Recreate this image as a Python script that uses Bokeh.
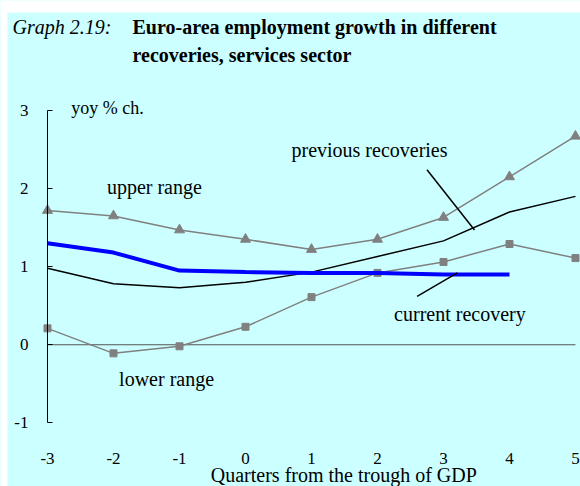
from bokeh.plotting import figure
from bokeh.models import Label, FixedTicker, Range1d, PrintfTickFormatter, BoxAnnotation
from bokeh.embed import file_html
from bokeh.resources import INLINE

quarters = [-3, -2, -1, 0, 1, 2, 3, 4, 5]
upper_range = [1.72, 1.65, 1.47, 1.35, 1.22, 1.35, 1.63, 2.15, 2.67]
previous = [0.98, 0.78, 0.73, 0.80, 0.93, 1.13, 1.33, 1.70, 1.90]
lower_range = [0.21, -0.11, -0.02, 0.23, 0.61, 0.92, 1.06, 1.29, 1.11]
current_q = [-3, -2, -1, 0, 1, 2, 3, 4]
current = [1.30, 1.18, 0.95, 0.93, 0.92, 0.92, 0.90, 0.90]
y_ticks = [-1, 0, 1, 2, 3]
x_ticks = quarters

BG = "#CCFFFF"
FONT = "Liberation Serif"

X0, X1 = -3.712, 5.076
Y0, Y1 = -1.815, 4.408

p = figure(width=580, height=486, output_backend="svg", toolbar_location=None,
           x_range=Range1d(X0, X1), y_range=Range1d(Y0, Y1),
           min_border_left=0, min_border_right=0, min_border_top=0, min_border_bottom=0)
p.background_fill_color = BG
p.border_fill_color = BG
p.outline_line_color = None
p.xgrid.visible = False
p.ygrid.visible = False

# white page strips around the coloured panel
p.add_layout(BoxAnnotation(bottom=Y1 - 12 / 78.1, fill_color="white", fill_alpha=1,
                           line_color=None, level="underlay"))
p.add_layout(BoxAnnotation(right=X0 + 7 / 66, fill_color="white", fill_alpha=1,
                           line_color=None, level="underlay"))

# axes placed inside the frame
p.yaxis.fixed_location = x_ticks[0]
p.yaxis.bounds = (y_ticks[0], y_ticks[-1])
p.yaxis.ticker = FixedTicker(ticks=y_ticks)
p.yaxis.formatter = PrintfTickFormatter(format="%d")
p.yaxis.major_tick_in = 5
p.yaxis.major_tick_out = 0
p.yaxis.minor_tick_line_color = None
p.yaxis.axis_line_color = "black"
p.yaxis.major_tick_line_color = "black"
p.yaxis.major_label_standoff = 19
p.yaxis.major_label_text_font = FONT
p.yaxis.major_label_text_font_size = "17px"
p.yaxis.major_label_text_color = "black"

p.xaxis.fixed_location = y_ticks[0]
p.xaxis.bounds = (x_ticks[0], x_ticks[-1])
p.xaxis.ticker = FixedTicker(ticks=x_ticks)
p.xaxis.formatter = PrintfTickFormatter(format="%d")
p.xaxis.axis_line_color = None
p.xaxis.major_tick_line_color = None
p.xaxis.minor_tick_line_color = None
p.xaxis.major_label_standoff = 24
p.xaxis.major_label_text_font = FONT
p.xaxis.major_label_text_font_size = "17px"
p.xaxis.major_label_text_color = "black"

# zero line across the quarters
p.line([x_ticks[0], x_ticks[-1]], [0, 0], line_color="#555555", line_width=1)

# series
p.line(quarters, upper_range, line_color="#808080", line_width=1.5)
p.scatter(quarters, upper_range, marker="triangle", size=10, fill_color="#808080", line_color="#808080")
p.line(quarters, lower_range, line_color="#808080", line_width=1.5)
p.scatter(quarters, lower_range, marker="square", size=7, fill_color="#808080", line_color="#808080")
p.line(quarters, previous, line_color="black", line_width=1.5)
p.line(current_q, current, line_color="#0000FF", line_width=4)

# pointer lines
p.line([2.75, 3.47], [2.24, 1.47], line_color="black", line_width=1.5)
p.line([2.60, 3.21], [0.62, 0.92], line_color="black", line_width=1.5)

DY = 0.064  # baseline correction

def lab(x, y, t, size="20px", style="normal"):
    p.add_layout(Label(x=x, y=y + DY, text=t, text_font=FONT, text_font_size=size,
                       text_font_style=style, text_color="black", text_baseline="alphabetic"))

lab(-2.64, 2.965, "yoy % ch.", size="18px")
lab(-2.10, 1.954, "upper range")
lab(0.697, 2.424, "previous recoveries")
lab(2.252, 0.324, "current recovery")
lab(-1.915, -0.499, "lower range")
lab(-0.526, -1.729, "Quarters from the trough of GDP")

# title
lab(-3.530, 4.000, "Graph 2.19:", style="italic")
lab(-1.712, 4.000, "Euro-area employment growth in different", style="bold")
lab(-1.712, 3.640, "recoveries, services sector", style="bold")

open("out.html", "w").write(file_html(p, INLINE))
